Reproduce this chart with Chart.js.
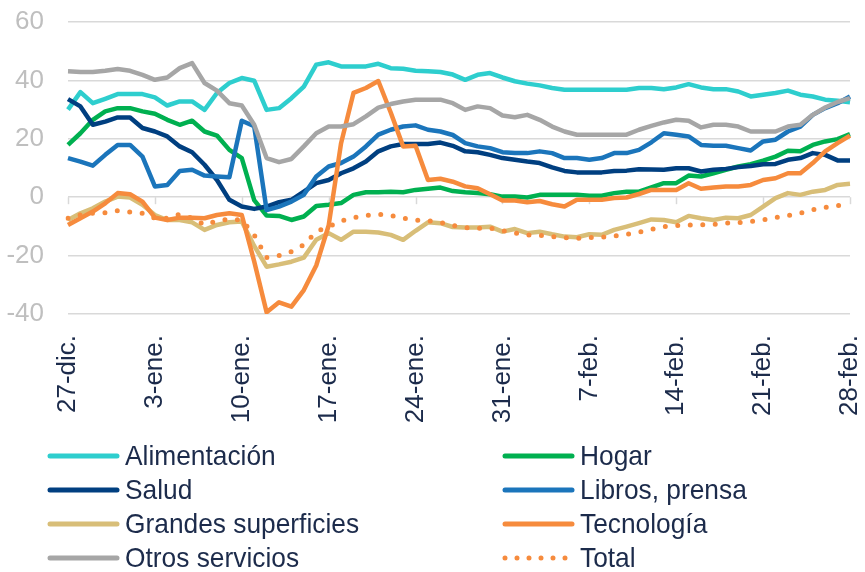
<!DOCTYPE html>
<html><head><meta charset="utf-8">
<script src="https://cdn.jsdelivr.net/npm/chart.js@4.4.0/dist/chart.umd.min.js"></script>
<style>
body{margin:0;background:#fff;}
#wrap{position:relative;width:865px;height:572px;overflow:hidden;}
#c{position:absolute;left:0;top:0;}
.item{position:absolute;height:34px;display:flex;align-items:center;font-family:'Liberation Sans',Arial,sans-serif;font-size:28px;color:#1c2b4b;white-space:nowrap;}
.item svg{display:block;flex:none;}
.item span{display:inline-block;margin-left:5px;transform:scaleX(0.94);transform-origin:left center;}
</style></head>
<body>
<div id="wrap"><canvas id="c" width="865" height="572"></canvas><div id="legend"></div></div>
<script>
const categories = [
 '27-dic.','28-dic.','29-dic.','30-dic.','31-dic.',
 '1-ene.','2-ene.','3-ene.','4-ene.','5-ene.','6-ene.','7-ene.','8-ene.','9-ene.','10-ene.',
 '11-ene.','12-ene.','13-ene.','14-ene.','15-ene.','16-ene.','17-ene.','18-ene.','19-ene.','20-ene.',
 '21-ene.','22-ene.','23-ene.','24-ene.','25-ene.','26-ene.','27-ene.','28-ene.','29-ene.','30-ene.','31-ene.',
 '1-feb.','2-feb.','3-feb.','4-feb.','5-feb.','6-feb.','7-feb.','8-feb.','9-feb.','10-feb.',
 '11-feb.','12-feb.','13-feb.','14-feb.','15-feb.','16-feb.','17-feb.','18-feb.','19-feb.','20-feb.',
 '21-feb.','22-feb.','23-feb.','24-feb.','25-feb.','26-feb.','27-feb.','28-feb.'
];
const yTicks = [-40, -20, 0, 20, 40, 60];

const alimentacion = [30, 36, 32.2, 33.7, 35.3, 35.3, 35.3, 34.2,
 31.4, 32.8, 32.8, 29.9, 35.7, 39.1, 40.8, 39.9,
 29.9, 30.5, 33.9, 37.9, 45.4, 46.2, 44.8, 44.8,
 44.8, 45.7, 44.2, 44, 43.3, 43.1, 42.9, 42,
 40.2, 41.9, 42.5, 41, 39.7, 38.9, 38.3, 37.4,
 36.8, 36.8, 36.8, 36.8, 36.8, 36.8, 37.4, 37.4,
 37, 37.6, 38.7, 37.6, 37, 37, 36.2, 34.5,
 35.1, 35.7, 36.5, 35.1, 34.5, 33.4, 33, 32.5];
const hogar = [17.9, 21.9, 26.5, 29.4, 30.5, 30.5, 29.4, 28.6,
 26.5, 24.8, 26.2, 22.5, 21.1, 16.2, 13.4, -1,
 -6.3, -6.4, -7.8, -6.6, -3, -2.6, -2, 0.8,
 1.7, 1.7, 1.9, 1.7, 2.5, 2.9, 3.3, 2.1,
 1.7, 1.4, 1, 0.2, 0.2, -0.1, 0.8, 0.8,
 0.8, 0.8, 0.5, 0.5, 1.4, 1.9, 1.9, 3.4,
 4.8, 4.8, 7.4, 7.1, 8.2, 9.4, 10.5, 11.3,
 12.5, 13.9, 15.9, 15.7, 17.9, 19.1, 19.9, 21.6];
const salud = [33.6, 31.1, 24.8, 25.9, 27.3, 27.3, 23.7, 22.5,
 20.8, 17.4, 15.4, 11.1, 5.9, -0.9, -3.2, -4,
 -3.2, -1.7, -0.9, 1.9, 4.8, 5.9, 8.2, 9.9,
 12.2, 15.7, 17.4, 18.2, 18.2, 18.2, 18.7, 17.6,
 15.7, 15.4, 14.5, 13.4, 12.8, 12.2, 11.7, 10.2,
 9, 8.5, 8.5, 8.5, 9, 9.1, 9.6, 9.5,
 9.4, 9.9, 9.9, 8.8, 9.4, 9.7, 10.3, 10.7,
 11.3, 11.4, 12.8, 13.4, 15.1, 14.5, 12.6, 12.6];
const libros = [13.4, 12.2, 10.8, 14.5, 17.9, 17.9, 13.9, 3.7,
 4.2, 9, 9.4, 7.4, 7.1, 6.8, 26.2, 24.3,
 -4.4, -3.2, -1.5, 0.8, 7.1, 10.5, 11.7, 13.9,
 17.4, 21.4, 23.1, 24.2, 24.6, 23.1, 22.5, 21.3,
 18.5, 17.4, 16.8, 15.4, 15.1, 15.1, 15.7, 15.1,
 13.4, 13.4, 12.8, 13.4, 15.1, 15.1, 16.2, 18.8,
 21.9, 21.4, 20.8, 17.9, 17.6, 17.6, 16.8, 16,
 19.1, 19.7, 22.5, 24.2, 28.2, 30.5, 32.2, 34.5];
const grandes = [-7.8, -5.5, -3.8, -1.5, 0.2, -0.1, -2.6, -6.1,
 -7.8, -7.8, -8.6, -11.2, -9.5, -8.6, -8.3, -16.7,
 -23.8, -23, -22.1, -20.7, -14.6, -12.3, -14.6, -11.8,
 -11.8, -12.1, -12.9, -14.6, -11.5, -8.6, -8.9, -10.2,
 -10.4, -10.4, -10.1, -11.8, -10.9, -12.3, -11.8, -12.7,
 -13.5, -13.7, -12.7, -12.9, -11.2, -10.1, -8.9, -7.6,
 -7.8, -8.6, -6.4, -7.2, -7.8, -7, -7.2, -6.1,
 -3.2, -0.3, 1.4, 0.8, 1.9, 2.5, 4.2, 4.6];
const tecnologia = [-9.5, -7.2, -4.9, -2.1, 1.4, 1, -1.5, -7,
 -7.8, -7, -7, -7.2, -6.1, -5.5, -6.1, -22,
 -39.4, -36, -37.5, -31.8, -23.4, -9.7, 18.5, 35.7,
 37.4, 39.8, 29, 17.4, 17.6, 5.9, 6.3, 5.3,
 3.7, 3.1, 1, -1.1, -1.1, -1.7, -1.3, -2.4,
 -3.2, -0.9, -0.9, -0.9, -0.3, -0.1, 1.1, 2.5,
 2.5, 2.5, 4.8, 2.9, 3.3, 3.7, 3.7, 4.2,
 5.9, 6.5, 8.2, 8.2, 11.7, 15.7, 18.5, 21.1];
const otros = [43.1, 42.9, 42.9, 43.3, 43.9, 43.3, 41.9, 40.2,
 41, 44.2, 45.9, 39.1, 36.5, 32.2, 31.4, 24.8,
 13.4, 12, 13.1, 17.4, 21.9, 24.2, 24.2, 25,
 27.7, 30.7, 31.9, 32.8, 33.4, 33.4, 33.4, 32.2,
 29.9, 31.1, 30.5, 28, 27.4, 28.2, 26.5, 24.2,
 22.5, 21.4, 21.4, 21.4, 21.4, 21.4, 23.1, 24.4,
 25.6, 26.5, 26.2, 23.9, 24.8, 24.8, 24.2, 22.5,
 22.5, 22.5, 24.2, 24.8, 28.2, 30.7, 32.6, 33.9];
const total = [-7.2, -6.1, -5.5, -5.3, -4.6, -5.1, -5.5, -7.2,
 -7.2, -5.8, -7.2, -9.5, -8.1, -7.5, -7.8, -12.9,
 -20.7, -20, -18.6, -16.3, -11.8, -10.1, -8.1, -7,
 -6.3, -5.8, -6.3, -7.2, -7.8, -8.1, -8.6, -9.7,
 -10.4, -10.6, -10.6, -11.5, -12.3, -12.9, -13.1, -13.5,
 -13.8, -14.1, -13.8, -13.7, -13.3, -12.7, -12, -11,
 -10.1, -9.7, -9.5, -9.5, -9.3, -8.9, -8.7, -8.3,
 -7.8, -7, -6.3, -5.5, -4.3, -3.5, -2.9, -2.1];

const seriesNames = ['Alimentación','Hogar','Salud','Libros, prensa','Grandes superficies','Tecnología','Otros servicios','Total'];
const seriesData = [alimentacion, hogar, salud, libros, grandes, tecnologia, otros, total];
const seriesColors = ['#2ECECE','#00B050','#003F80','#1B75BB','#D8BE78','#F68B3D','#A6A6A6','#F68B3D'];

const datasets = seriesNames.map((name, i) => {
  const dotted = name === 'Total';
  return {
    label: name,
    data: seriesData[i],
    borderColor: seriesColors[i],
    backgroundColor: seriesColors[i],
    borderWidth: dotted ? 5 : 4.5,
    borderDash: dotted ? [0, 12.5] : [],
    borderCapStyle: dotted ? 'round' : 'butt',
    borderJoinStyle: 'round',
    pointRadius: 0,
    tension: 0,
    fill: false,
    order: seriesNames.length - i
  };
});

const zeroTicks = {
  id: 'zeroTicks',
  beforeDatasetsDraw(chart) {
    const {ctx, scales: {x, y}} = chart;
    const y0 = y.getPixelForValue(0);
    ctx.save();
    ctx.strokeStyle = '#D9D9D9';
    ctx.lineWidth = 1.5;
    categories.forEach((c, i) => {
      if (i % 7 === 0) {
        const px = Math.round(x.getPixelForValue(i)) + 0.5;
        ctx.beginPath(); ctx.moveTo(px, y0); ctx.lineTo(px, y0 + 7); ctx.stroke();
      }
    });
    ctx.restore();
  }
};

new Chart(document.getElementById('c'), {
  type: 'line',
  data: { labels: categories, datasets },
  plugins: [zeroTicks],
  options: {
    responsive: false,
    animation: false,
    devicePixelRatio: 1,
    layout: { padding: { top: 22, right: 15, left: 0, bottom: 0 } },
    plugins: { legend: { display: false }, tooltip: { enabled: false } },
    scales: {
      x: {
        offset: false,
        grid: { display: false, drawTicks: false },
        border: { display: false },
        afterFit(s) { s.height = 258; s.paddingLeft = 0; s.paddingRight = 0; },
        ticks: {
          autoSkip: false, minRotation: 90, maxRotation: 90, padding: 21,
          color: '#1c2b4b',
          font: { family: "'Liberation Sans', Arial, sans-serif", size: 26 },
          callback(v, i) { return i % 7 === 0 ? categories[i] : null; }
        }
      },
      y: {
        min: yTicks[0], max: yTicks[yTicks.length - 1],
        afterFit(s) { s.width = 68; s.paddingTop = 0; s.paddingBottom = 0; },
        afterBuildTicks(s) { s.ticks = yTicks.map(v => ({ value: v })); },
        grid: { color: '#D9D9D9', lineWidth: 1.5, drawTicks: false },
        border: { display: false },
        ticks: {
          padding: 24, color: '#BFBFBF',
          font: { family: "'Liberation Sans', Arial, sans-serif", size: 26 }
        }
      }
    }
  }
});

// Legend (two columns)
const legend = document.getElementById('legend');
const rowCenters = [456, 490, 524, 558];
const colLine = [47, 502];
seriesNames.forEach((name, i) => {
  const col = i % 2, row = Math.floor(i / 2);
  const d = document.createElement('div');
  d.className = 'item';
  d.style.left = colLine[col] + 'px';
  d.style.top = (rowCenters[row] - 17) + 'px';
  const dotted = name === 'Total';
  const dash = dotted ? ' stroke-dasharray="0 12" stroke-linecap="round"' : ' stroke-linecap="round"';
  d.innerHTML = '<svg width="73" height="10"><line x1="3" y1="5" x2="70" y2="5" stroke="' + seriesColors[i] + '" stroke-width="5"' + dash + '/></svg><span>' + name + '</span>';
  legend.appendChild(d);
});
</script>
</body></html>
